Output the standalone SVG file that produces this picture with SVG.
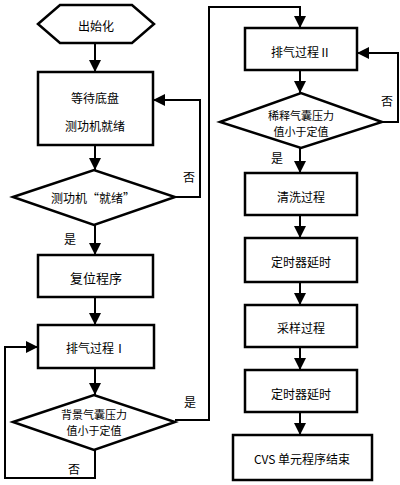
<svg xmlns="http://www.w3.org/2000/svg" width="400" height="485" viewBox="0 0 400 485">
<defs>
<marker id="ah" markerUnits="userSpaceOnUse" markerWidth="12" markerHeight="12" viewBox="0 0 12 12" refX="12" refY="6" orient="auto">
<path d="M0,0 L12,6 L0,12 Z" fill="#000"/>
</marker>
</defs>
<style>
.box{fill:#fff;stroke:#000;stroke-width:2.5}
.c{fill:none;stroke:#000;stroke-width:2}
.a{marker-end:url(#ah)}
text{font-family:"Noto Sans CJK SC","Noto Sans",sans-serif;font-size:12px;fill:#000;text-anchor:middle;dominant-baseline:central}
.d{font-size:11px}
</style>
<rect width="400" height="485" fill="#fff"/>
<g id="connectors">
<path class="c a" d="M95,43 V72"/>
<path class="c a" d="M95,145 V170"/>
<path class="c a" d="M175,197 H200 V100 H153"/>
<path class="c a" d="M95,225 V255"/>
<path class="c a" d="M95,297 V325"/>
<path class="c a" d="M95,368 V395"/>
<path class="c a" d="M95,450 V478 H5 V347 H38"/>
<path class="c a" d="M175,420 H209 V7 H300 V28"/>
<path class="c a" d="M300,70 V93"/>
<path class="c a" d="M382,122 H398 V53 H357"/>
<path class="c a" d="M300,148 V173"/>
<path class="c a" d="M300,215 V238"/>
<path class="c a" d="M300,282 V305"/>
<path class="c a" d="M300,347 V370"/>
<path class="c a" d="M300,412 V435"/>
</g>
<g id="labels">
<text x="189" y="176">否</text>
<text x="70" y="238">是</text>
<text x="190" y="401">是</text>
<text x="74" y="468">否</text>
<text x="387" y="100">否</text>
<text x="277" y="157">是</text>
</g>
<g id="start">
<polygon class="box" points="38,24 60,5 132,5 154,24 132,43 60,43"/>
<text x="96" y="25">出始化</text>
</g>
<g id="wait">
<rect class="box" x="38" y="72" width="115" height="73"/>
<text x="95" y="97">等待底盘</text>
<text x="95" y="125">测功机就绪</text>
</g>
<g id="ready">
<polygon class="box" points="13,197 94,170 175,197 94,225"/>
<text x="93" y="197">测功机“就绪”</text>
</g>
<g id="reset">
<rect class="box" x="38" y="255" width="115" height="42"/>
<text x="96" y="277" style="font-size:13px">复位程序</text>
</g>
<g id="exhaust1">
<rect class="box" x="38" y="325" width="116" height="43"/>
<text x="96" y="347">排气过程Ⅰ</text>
</g>
<g id="check1">
<polygon class="box" points="13,422 94,395 175,422 94,450"/>
<text class="d" x="94" y="414">背景气囊压力</text>
<text class="d" x="94" y="430">值小于定值</text>
</g>
<g id="exhaust2">
<rect class="box" x="245" y="28" width="112" height="42"/>
<text x="301" y="51">排气过程Ⅱ</text>
</g>
<g id="check2">
<polygon class="box" points="220,122 301,93 382,122 301,148"/>
<text class="d" x="301" y="115">稀释气囊压力</text>
<text class="d" x="301" y="131">值小于定值</text>
</g>
<g id="clean">
<rect class="box" x="245" y="173" width="112" height="42"/>
<text x="301" y="196">清洗过程</text>
</g>
<g id="timer1">
<rect class="box" x="245" y="238" width="112" height="44"/>
<text x="301" y="261">定时器延时</text>
</g>
<g id="sample">
<rect class="box" x="245" y="305" width="112" height="42"/>
<text x="301" y="327">采样过程</text>
</g>
<g id="timer2">
<rect class="box" x="245" y="370" width="112" height="42"/>
<text x="301" y="393">定时器延时</text>
</g>
<g id="end">
<rect class="box" x="233" y="435" width="139" height="45"/>
<text x="302" y="458">CVS 单元程序结束</text>
</g>
</svg>
